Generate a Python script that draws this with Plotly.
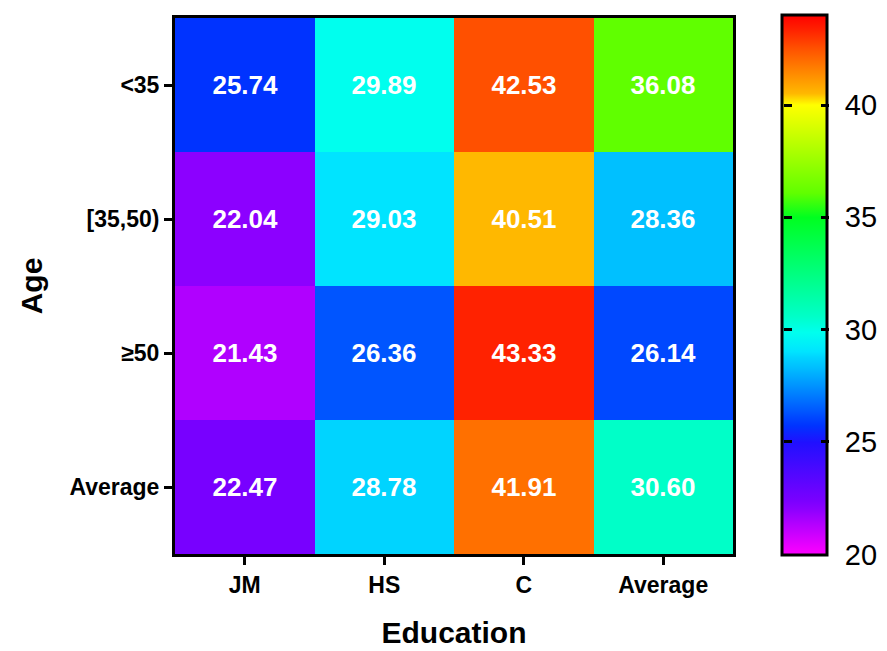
import plotly.graph_objects as go

education = ["JM", "HS", "C", "Average"]
age = ["<35", "[35,50)", "≥50", "Average"]
values = [
    [25.74, 29.89, 42.53, 36.08],
    [22.04, 29.03, 40.51, 28.36],
    [21.43, 26.36, 43.33, 26.14],
    [22.47, 28.78, 41.91, 30.60],
]
zmin, zmax = 20, 44
cbar_ticks = [20, 25, 30, 35, 40]

stops = [
    (20, "#ff00ff"), (21.43, "#b000ff"), (22.04, "#8c00ff"), (22.47, "#7800ff"),
    (25, "#2010ff"), (25.74, "#0033ff"), (26.14, "#0048ff"), (26.36, "#0055ff"),
    (28.36, "#00c0ff"), (28.78, "#00d4ff"), (29.03, "#00e4ff"), (29.89, "#00ffee"),
    (30.60, "#00ffc8"), (35, "#00ff20"), (36.08, "#60ff00"), (40, "#ffff00"),
    (40.51, "#ffb800"), (41.91, "#ff7000"), (42.53, "#ff5000"), (43.33, "#ff2200"),
    (44, "#ff0000"),
]
colorscale = [[(v - zmin) / (zmax - zmin), c] for v, c in stops]

FONT = "Arial, Liberation Sans, sans-serif"

W, H = 879, 643
ML, MR, MT, MB = 167, 153, 7, 97
plot_w = W - ML - MR
plot_h = H - MT - MB
CB_X, CB_THICK = 1.0886, 45
CB_TOP, CB_LEN = 1.006, 1.007

fig = go.Figure(go.Heatmap(
    x=education, y=age, z=values, zmin=zmin, zmax=zmax,
    colorscale=colorscale,
    texttemplate="%{z:.2f}",
    textfont=dict(family=FONT, size=26, color="white", weight="bold"),
    colorbar=dict(
        x=CB_X, xanchor="left", xpad=0,
        y=CB_TOP, yanchor="top", len=CB_LEN, lenmode="fraction", ypad=0,
        thickness=CB_THICK, outlinewidth=3, outlinecolor="black",
        tickvals=cbar_ticks, ticks="outside", ticklen=11, tickwidth=1,
        tickcolor="rgba(0,0,0,0)",
        tickfont=dict(family=FONT, size=29, color="black"),
    ),
))

# inside tick marks on both edges of the colour bar (drawn as tiny black boxes)
bar_left = CB_X + 1.5 / plot_w
bar_right = CB_X + (CB_THICK + 1.5) / plot_w
bar_bottom = CB_TOP - CB_LEN + 1.5 / plot_h
bar_top = CB_TOP - 1.5 / plot_h
for v in cbar_ticks[1:]:
    yv = bar_bottom + (v - zmin) / (zmax - zmin) * (bar_top - bar_bottom)
    for xv, anchor in [(bar_left, "left"), (bar_right, "right")]:
        fig.add_annotation(x=xv, y=yv, xref="paper", yref="paper",
                           xanchor=anchor, yanchor="middle",
                           text=" ", font=dict(size=2), width=8, height=3,
                           bgcolor="black", borderpad=0, borderwidth=0,
                           showarrow=False)

fig.update_layout(
    width=W, height=H,
    margin=dict(l=ML, r=MR, t=MT, b=MB),
    plot_bgcolor="white", paper_bgcolor="white",
    font=dict(family=FONT, color="black"),
    xaxis=dict(
        title=dict(text="<b>Education</b>", font=dict(size=30), standoff=26),
        showline=True, linewidth=3, linecolor="black", mirror=True,
        ticks="outside", ticklen=8, tickwidth=3, tickcolor="black",
        tickfont=dict(size=23, weight="bold"), showgrid=False, zeroline=False,
    ),
    yaxis=dict(
        title=dict(text="<b>Age</b>", font=dict(size=30), standoff=18),
        autorange="reversed",
        showline=True, linewidth=3, linecolor="black", mirror=True,
        ticks="outside", ticklen=8, tickwidth=3, tickcolor="black",
        tickfont=dict(size=23, weight="bold"), showgrid=False, zeroline=False,
    ),
)

fig.write_html("out.html")
